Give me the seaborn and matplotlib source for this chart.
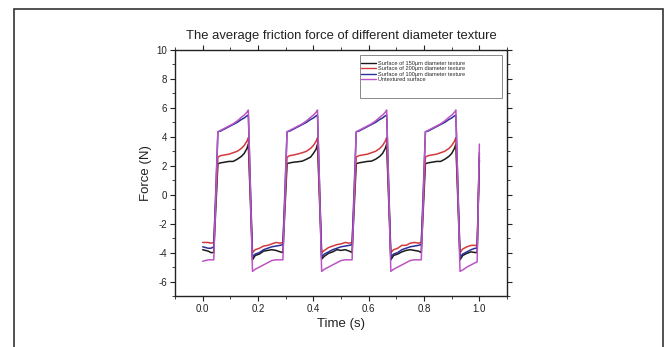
import pandas as pd
import matplotlib.pyplot as plt
import seaborn as sns
from matplotlib.patches import Rectangle
from matplotlib.ticker import MultipleLocator

time_s = [
    0.000, 0.010, 0.020, 0.030, 0.040,
    0.055, 0.065, 0.080, 0.095, 0.110, 0.125, 0.140, 0.150, 0.160, 0.165,
    0.180, 0.190, 0.205, 0.220, 0.235, 0.250, 0.265, 0.280, 0.290,
    0.305, 0.315, 0.330, 0.345, 0.360, 0.375, 0.390, 0.400, 0.410, 0.415,
    0.430, 0.440, 0.455, 0.470, 0.485, 0.500, 0.515, 0.530, 0.540,
    0.555, 0.565, 0.580, 0.595, 0.610, 0.625, 0.640, 0.650, 0.660, 0.665,
    0.680, 0.690, 0.705, 0.720, 0.735, 0.750, 0.765, 0.780, 0.790,
    0.805, 0.815, 0.830, 0.845, 0.860, 0.875, 0.890, 0.900, 0.910, 0.915,
    0.930, 0.940, 0.955, 0.970, 0.985, 0.992, 1.000,
]

force_150um = [
    -3.80, -3.85, -3.90, -4.00, -4.00,
    2.15, 2.20, 2.25, 2.30, 2.30, 2.45, 2.65, 2.85, 3.20, 3.50,
    -4.50, -4.20, -4.10, -3.90, -3.85, -3.80, -3.85, -3.95, -4.00,
    2.15, 2.20, 2.25, 2.28, 2.32, 2.45, 2.60, 2.85, 3.15, 3.50,
    -4.45, -4.25, -4.05, -3.95, -3.80, -3.85, -3.80, -3.90, -4.00,
    2.15, 2.20, 2.25, 2.30, 2.32, 2.45, 2.65, 2.85, 3.20, 3.50,
    -4.50, -4.20, -4.10, -3.95, -3.85, -3.80, -3.85, -3.90, -4.00,
    2.15, 2.20, 2.25, 2.30, 2.30, 2.45, 2.65, 2.85, 3.20, 3.50,
    -4.50, -4.20, -4.05, -3.95, -4.00, -4.00, 2.40,
]

force_200um = [
    -3.30, -3.30, -3.30, -3.35, -3.30,
    2.60, 2.70, 2.75, 2.80, 2.90, 3.00, 3.20, 3.40, 3.70, 3.95,
    -4.00, -3.80, -3.70, -3.55, -3.50, -3.40, -3.30, -3.35, -3.30,
    2.60, 2.70, 2.75, 2.82, 2.90, 3.00, 3.20, 3.40, 3.70, 3.95,
    -4.00, -3.85, -3.65, -3.55, -3.45, -3.40, -3.30, -3.35, -3.30,
    2.60, 2.70, 2.75, 2.80, 2.90, 3.00, 3.20, 3.40, 3.70, 3.95,
    -4.00, -3.80, -3.70, -3.50, -3.50, -3.35, -3.30, -3.35, -3.30,
    2.60, 2.70, 2.75, 2.80, 2.90, 3.00, 3.20, 3.40, 3.70, 3.95,
    -4.00, -3.75, -3.60, -3.50, -3.50, -3.55, 2.60,
]

force_100um = [
    -3.60, -3.65, -3.70, -3.70, -3.60,
    4.35, 4.40, 4.55, 4.70, 4.85, 5.00, 5.20, 5.30, 5.45, 5.50,
    -4.30, -4.10, -4.00, -3.80, -3.70, -3.60, -3.55, -3.50, -3.45,
    4.35, 4.40, 4.55, 4.70, 4.85, 5.00, 5.20, 5.30, 5.45, 5.50,
    -4.30, -4.10, -3.95, -3.80, -3.70, -3.60, -3.55, -3.50, -3.45,
    4.35, 4.40, 4.55, 4.70, 4.85, 5.00, 5.20, 5.30, 5.45, 5.50,
    -4.30, -4.10, -4.00, -3.80, -3.70, -3.60, -3.55, -3.50, -3.45,
    4.35, 4.40, 4.55, 4.70, 4.85, 5.00, 5.20, 5.30, 5.45, 5.50,
    -4.30, -4.10, -3.95, -3.80, -3.70, -3.70, 2.90,
]

force_untextured = [
    -4.60, -4.55, -4.50, -4.50, -4.50,
    4.35, 4.45, 4.60, 4.75, 4.90, 5.10, 5.35, 5.50, 5.70, 5.85,
    -5.30, -5.15, -5.00, -4.85, -4.70, -4.55, -4.50, -4.50, -4.50,
    4.35, 4.45, 4.60, 4.75, 4.90, 5.10, 5.35, 5.50, 5.70, 5.85,
    -5.30, -5.15, -5.00, -4.85, -4.70, -4.55, -4.50, -4.50, -4.50,
    4.35, 4.45, 4.60, 4.75, 4.90, 5.10, 5.35, 5.50, 5.70, 5.85,
    -5.30, -5.15, -5.00, -4.85, -4.70, -4.55, -4.50, -4.50, -4.50,
    4.35, 4.45, 4.60, 4.75, 4.90, 5.10, 5.35, 5.50, 5.70, 5.85,
    -5.30, -5.20, -5.00, -4.85, -4.70, -4.65, 3.50,
]

labels = [
    "Surface of 150\u03bcm diameter texture",
    "Surface of 200\u03bcm diameter texture",
    "Surface of 100\u03bcm diameter texture",
    "Untextured surface",
]
colors = ["#1a1a1a", "#d23a3e", "#2b2f9a", "#bb55c4"]

frames = []
for lab, vals in zip(labels, [force_150um, force_200um, force_100um, force_untextured]):
    frames.append(pd.DataFrame({"Time": time_s, "Force": vals, "Series": lab}))
df = pd.concat(frames, ignore_index=True)

sns.set_theme(style="white")
plt.rcParams["font.family"] = ["Liberation Sans", "DejaVu Sans"]
plt.rcParams["axes.unicode_minus"] = False

fig = plt.figure(figsize=(6.69, 3.47), dpi=100)
fig.patch.set_facecolor("white")
ax = fig.add_axes([0.2616, 0.1470, 0.4963, 0.7089])

sns.lineplot(
    data=df, x="Time", y="Force", hue="Series", hue_order=labels,
    palette=colors, sort=False, estimator=None, linewidth=1.1, ax=ax,
)

ax.set_xlim(-0.1, 1.1)
ax.set_ylim(-7, 10)
ax.xaxis.set_major_locator(MultipleLocator(0.2))
ax.xaxis.set_minor_locator(MultipleLocator(0.1))
ax.yaxis.set_major_locator(MultipleLocator(2))
ax.yaxis.set_minor_locator(MultipleLocator(1))
ax.set_xticklabels([f"{v:.1f}" for v in ax.get_xticks()])

for s in ax.spines.values():
    s.set_color("#222222")
    s.set_linewidth(1.0)

ax.tick_params(which="both", colors="#222222", labelsize=7, direction="out",
               top=True, right=True, left=True, bottom=True)
ax.tick_params(which="major", length=3.5, width=0.8, pad=2)
ax.tick_params(which="minor", length=2, width=0.6)

ax.set_xlabel("Time (s)", fontsize=9.5, labelpad=3, color="#222222")
ax.set_ylabel("Force (N)", fontsize=9.5, labelpad=3, color="#222222")
ax.set_title("The average friction force of different diameter texture",
             fontsize=9.4, pad=8, color="#222222")

leg = ax.legend(loc="upper left", bbox_to_anchor=(0.56, 0.955), fontsize=4.1,
                frameon=False, handlelength=2.7, handletextpad=0.3,
                labelspacing=0.05, borderpad=0, borderaxespad=0)
for h in leg.get_lines():
    h.set_linewidth(1.0)

# legend box as drawn in the original (larger than the entries)
ax.add_patch(Rectangle((0.557, 0.805), 0.428, 0.175, transform=ax.transAxes,
                       fill=False, edgecolor="#888888", linewidth=0.7))

fig.patches.append(Rectangle((14 / 669, -0.05), 649 / 669, 1 - 9 / 347 + 0.05,
                             transform=fig.transFigure, fill=False,
                             edgecolor="#333333", linewidth=1.2))

plt.savefig("out.png", dpi=100)
